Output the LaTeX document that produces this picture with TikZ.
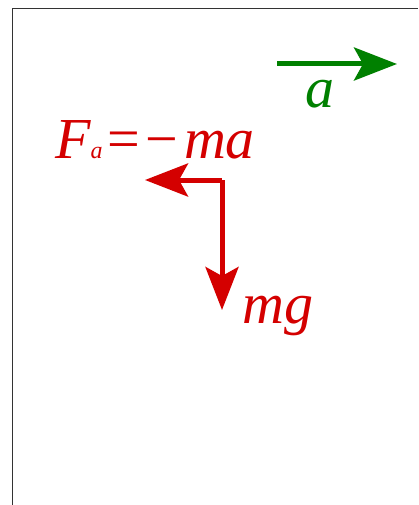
\documentclass[tikz,border=0pt]{standalone}
\usepackage{fontspec}
\setmainfont{Liberation Serif}
\usetikzlibrary{positioning}
\usetikzlibrary{arrows.meta}
\definecolor{red}{RGB}{212,0,0}
\definecolor{green}{RGB}{0,128,0}

\begin{document}
\begin{tikzpicture}[x=1pt, y=-1pt,
    vec/.style={line width=5pt, -{Stealth[length=43pt, width=33pt, inset=9pt]}},
    lbl/.style={inner sep=0pt, anchor=base west, font=\fontsize{58}{60}\selectfont\itshape}]
    \useasboundingbox (0, 0) rectangle (418, 505);
    \fill[white] (0, 0) rectangle (418, 505);

    % frame
    \draw[black!80, line width=1pt] (12, 505) -- (12, 8.5) -- (418, 8.5);

    % acceleration
    \coordinate (a0) at (277, 64);
    \coordinate (a1) at (397, 64);
    \draw[vec, green] (a0) -- (a1);
    \node[lbl, green] (alabel) at (305, 108) {a};

    % forces
    \coordinate (o) at (222, 180);
    \coordinate (fa) at (145, 180);
    \coordinate (fg) at (222, 310);
    \draw[vec, red] (o) -- (fa);
    \draw[vec, red] (o) -- (fg);
    \node[lbl, red] (falabel) at (55, 158)
        {F{\fontsize{24}{24}\selectfont a}\kern5pt\upshape=\kern5pt−\kern6pt\itshape ma};
    \node[lbl, red] (mglabel) at (242, 323) {mg};
\end{tikzpicture}
\end{document}
